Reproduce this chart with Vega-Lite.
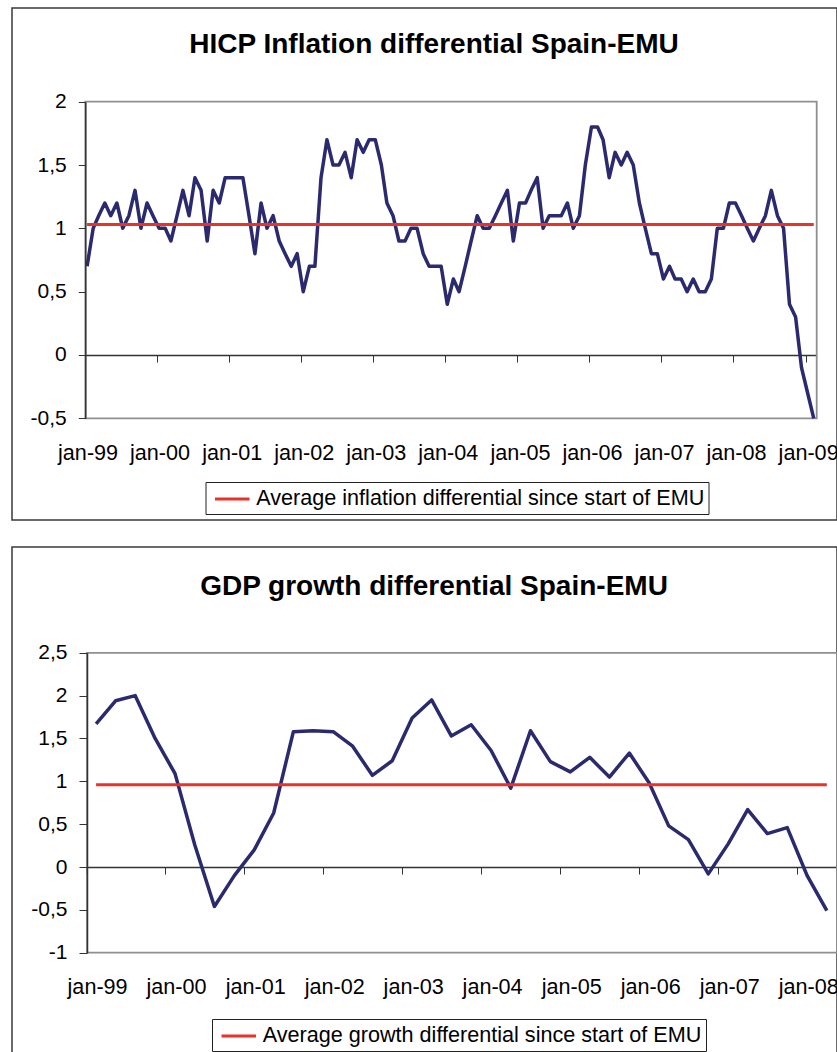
{
  "$schema": "https://vega.github.io/schema/vega-lite/v6.json",
  "padding": {"left": 11, "top": 7, "right": 0, "bottom": 0},
  "background": "white",
  "spacing": 25,
  "config": {
    "font": "Liberation Sans",
    "view": {"stroke": "#3a3a3a", "strokeWidth": 1.5}
  },
  "resolve": {
    "scale": {"x": "independent", "y": "independent", "color": "independent"},
    "axis": {"x": "independent", "y": "independent"},
    "legend": {"color": "independent"}
  },
  "datasets": {
    "hicp": [
      {"date": "1999-01-01", "value": 0.7}, {"date": "1999-02-01", "value": 1.0}, {"date": "1999-03-01", "value": 1.1}, {"date": "1999-04-01", "value": 1.2}, {"date": "1999-05-01", "value": 1.1}, {"date": "1999-06-01", "value": 1.2}, {"date": "1999-07-01", "value": 1.0}, {"date": "1999-08-01", "value": 1.1}, {"date": "1999-09-01", "value": 1.3}, {"date": "1999-10-01", "value": 1.0}, {"date": "1999-11-01", "value": 1.2}, {"date": "1999-12-01", "value": 1.1},
      {"date": "2000-01-01", "value": 1.0}, {"date": "2000-02-01", "value": 1.0}, {"date": "2000-03-01", "value": 0.9}, {"date": "2000-04-01", "value": 1.1}, {"date": "2000-05-01", "value": 1.3}, {"date": "2000-06-01", "value": 1.1}, {"date": "2000-07-01", "value": 1.4}, {"date": "2000-08-01", "value": 1.3}, {"date": "2000-09-01", "value": 0.9}, {"date": "2000-10-01", "value": 1.3}, {"date": "2000-11-01", "value": 1.2}, {"date": "2000-12-01", "value": 1.4},
      {"date": "2001-01-01", "value": 1.4}, {"date": "2001-02-01", "value": 1.4}, {"date": "2001-03-01", "value": 1.4}, {"date": "2001-04-01", "value": 1.1}, {"date": "2001-05-01", "value": 0.8}, {"date": "2001-06-01", "value": 1.2}, {"date": "2001-07-01", "value": 1.0}, {"date": "2001-08-01", "value": 1.1}, {"date": "2001-09-01", "value": 0.9}, {"date": "2001-10-01", "value": 0.8}, {"date": "2001-11-01", "value": 0.7}, {"date": "2001-12-01", "value": 0.8},
      {"date": "2002-01-01", "value": 0.5}, {"date": "2002-02-01", "value": 0.7}, {"date": "2002-03-01", "value": 0.7}, {"date": "2002-04-01", "value": 1.4}, {"date": "2002-05-01", "value": 1.7}, {"date": "2002-06-01", "value": 1.5}, {"date": "2002-07-01", "value": 1.5}, {"date": "2002-08-01", "value": 1.6}, {"date": "2002-09-01", "value": 1.4}, {"date": "2002-10-01", "value": 1.7}, {"date": "2002-11-01", "value": 1.6}, {"date": "2002-12-01", "value": 1.7},
      {"date": "2003-01-01", "value": 1.7}, {"date": "2003-02-01", "value": 1.5}, {"date": "2003-03-01", "value": 1.2}, {"date": "2003-04-01", "value": 1.1}, {"date": "2003-05-01", "value": 0.9}, {"date": "2003-06-01", "value": 0.9}, {"date": "2003-07-01", "value": 1.0}, {"date": "2003-08-01", "value": 1.0}, {"date": "2003-09-01", "value": 0.8}, {"date": "2003-10-01", "value": 0.7}, {"date": "2003-11-01", "value": 0.7}, {"date": "2003-12-01", "value": 0.7},
      {"date": "2004-01-01", "value": 0.4}, {"date": "2004-02-01", "value": 0.6}, {"date": "2004-03-01", "value": 0.5}, {"date": "2004-04-01", "value": 0.7}, {"date": "2004-05-01", "value": 0.9}, {"date": "2004-06-01", "value": 1.1}, {"date": "2004-07-01", "value": 1.0}, {"date": "2004-08-01", "value": 1.0}, {"date": "2004-09-01", "value": 1.1}, {"date": "2004-10-01", "value": 1.2}, {"date": "2004-11-01", "value": 1.3}, {"date": "2004-12-01", "value": 0.9},
      {"date": "2005-01-01", "value": 1.2}, {"date": "2005-02-01", "value": 1.2}, {"date": "2005-03-01", "value": 1.3}, {"date": "2005-04-01", "value": 1.4}, {"date": "2005-05-01", "value": 1.0}, {"date": "2005-06-01", "value": 1.1}, {"date": "2005-07-01", "value": 1.1}, {"date": "2005-08-01", "value": 1.1}, {"date": "2005-09-01", "value": 1.2}, {"date": "2005-10-01", "value": 1.0}, {"date": "2005-11-01", "value": 1.1}, {"date": "2005-12-01", "value": 1.5},
      {"date": "2006-01-01", "value": 1.8}, {"date": "2006-02-01", "value": 1.8}, {"date": "2006-03-01", "value": 1.7}, {"date": "2006-04-01", "value": 1.4}, {"date": "2006-05-01", "value": 1.6}, {"date": "2006-06-01", "value": 1.5}, {"date": "2006-07-01", "value": 1.6}, {"date": "2006-08-01", "value": 1.5}, {"date": "2006-09-01", "value": 1.2}, {"date": "2006-10-01", "value": 1.0}, {"date": "2006-11-01", "value": 0.8}, {"date": "2006-12-01", "value": 0.8},
      {"date": "2007-01-01", "value": 0.6}, {"date": "2007-02-01", "value": 0.7}, {"date": "2007-03-01", "value": 0.6}, {"date": "2007-04-01", "value": 0.6}, {"date": "2007-05-01", "value": 0.5}, {"date": "2007-06-01", "value": 0.6}, {"date": "2007-07-01", "value": 0.5}, {"date": "2007-08-01", "value": 0.5}, {"date": "2007-09-01", "value": 0.6}, {"date": "2007-10-01", "value": 1.0}, {"date": "2007-11-01", "value": 1.0}, {"date": "2007-12-01", "value": 1.2},
      {"date": "2008-01-01", "value": 1.2}, {"date": "2008-02-01", "value": 1.1}, {"date": "2008-03-01", "value": 1.0}, {"date": "2008-04-01", "value": 0.9}, {"date": "2008-05-01", "value": 1.0}, {"date": "2008-06-01", "value": 1.1}, {"date": "2008-07-01", "value": 1.3}, {"date": "2008-08-01", "value": 1.1}, {"date": "2008-09-01", "value": 1.0}, {"date": "2008-10-01", "value": 0.4}, {"date": "2008-11-01", "value": 0.3}, {"date": "2008-12-01", "value": -0.1},
      {"date": "2009-01-01", "value": -0.3}, {"date": "2009-02-01", "value": -0.5}
    ],
    "hicpAvg": [
      {"date": "1999-01-01", "value": 1.03, "series": "Average inflation differential since start of EMU"},
      {"date": "2009-02-01", "value": 1.03, "series": "Average inflation differential since start of EMU"}
    ],
    "gdp": [
      {"date": "1999-01-01", "value": 1.67}, {"date": "1999-04-01", "value": 1.94}, {"date": "1999-07-01", "value": 2.0}, {"date": "1999-10-01", "value": 1.5},
      {"date": "2000-01-01", "value": 1.09}, {"date": "2000-04-01", "value": 0.26}, {"date": "2000-07-01", "value": -0.46}, {"date": "2000-10-01", "value": -0.1},
      {"date": "2001-01-01", "value": 0.2}, {"date": "2001-04-01", "value": 0.63}, {"date": "2001-07-01", "value": 1.58}, {"date": "2001-10-01", "value": 1.59},
      {"date": "2002-01-01", "value": 1.58}, {"date": "2002-04-01", "value": 1.41}, {"date": "2002-07-01", "value": 1.07}, {"date": "2002-10-01", "value": 1.24},
      {"date": "2003-01-01", "value": 1.74}, {"date": "2003-04-01", "value": 1.95}, {"date": "2003-07-01", "value": 1.53}, {"date": "2003-10-01", "value": 1.66},
      {"date": "2004-01-01", "value": 1.36}, {"date": "2004-04-01", "value": 0.92}, {"date": "2004-07-01", "value": 1.59}, {"date": "2004-10-01", "value": 1.23},
      {"date": "2005-01-01", "value": 1.11}, {"date": "2005-04-01", "value": 1.28}, {"date": "2005-07-01", "value": 1.05}, {"date": "2005-10-01", "value": 1.33},
      {"date": "2006-01-01", "value": 0.98}, {"date": "2006-04-01", "value": 0.48}, {"date": "2006-07-01", "value": 0.32}, {"date": "2006-10-01", "value": -0.08},
      {"date": "2007-01-01", "value": 0.27}, {"date": "2007-04-01", "value": 0.67}, {"date": "2007-07-01", "value": 0.39}, {"date": "2007-10-01", "value": 0.46},
      {"date": "2008-01-01", "value": -0.1}, {"date": "2008-04-01", "value": -0.51}
    ],
    "gdpAvg": [
      {"date": "1999-01-01", "value": 0.96, "series": "Average growth differential since start of EMU"},
      {"date": "2008-04-01", "value": 0.96, "series": "Average growth differential since start of EMU"}
    ]
  },
  "vconcat": [
    {
      "width": 825,
      "height": 512,
      "title": {"text": "HICP Inflation differential Spain-EMU", "orient": "top", "anchor": "middle", "frame": "group", "offset": -73, "dx": 9.5, "baseline": "alphabetic", "fontSize": 28, "fontWeight": "bold", "font": "Liberation Sans", "color": "#000000"},
      "layer": [
        {
          "data": {"values": [{}]},
          "mark": {"type": "rect", "filled": false, "stroke": "#8f8f8f", "strokeWidth": 1.8},
          "encoding": {
            "x": {"datum": {"year": 1998, "month": 12, "date": 23, "utc": true}, "type": "temporal"},
            "x2": {"datum": {"year": 2009, "month": 2, "date": 16, "utc": true}},
            "y": {"datum": -0.5, "type": "quantitative"},
            "y2": {"datum": 2}
          }
        },
        {
          "data": {"name": "hicp"},
          "mark": {"type": "line", "color": "#2b2a6e", "strokeWidth": 3.5, "strokeJoin": "round"},
          "encoding": {
            "x": {
              "field": "date", "type": "temporal",
              "scale": {"type": "utc", "domain": [{"year": 1998, "month": 12, "date": 23, "utc": true}, {"year": 2009, "month": 2, "date": 16, "utc": true}], "range": [73.3, 804.7], "nice": false},
              "axis": {
                "orient": "bottom", "offset": -165, "title": null, "grid": false,
                "values": [{"year": 1999, "month": 1, "date": 1, "utc": true}, {"year": 2000, "month": 1, "date": 1, "utc": true}, {"year": 2001, "month": 1, "date": 1, "utc": true}, {"year": 2002, "month": 1, "date": 1, "utc": true}, {"year": 2003, "month": 1, "date": 1, "utc": true}, {"year": 2004, "month": 1, "date": 1, "utc": true}, {"year": 2005, "month": 1, "date": 1, "utc": true}, {"year": 2006, "month": 1, "date": 1, "utc": true}, {"year": 2007, "month": 1, "date": 1, "utc": true}, {"year": 2008, "month": 1, "date": 1, "utc": true}, {"year": 2009, "month": 1, "date": 1, "utc": true}],
                "domain": true, "domainColor": "#333333", "domainWidth": 1.5,
                "ticks": true, "tickSize": 7, "tickColor": "#333333", "tickWidth": 1, "tickOffset": -2,
                "labelOffset": 2.5, "labelPadding": 80.5, "labelFontSize": 21.6, "labelFont": "Liberation Sans", "labelColor": "#000000",
                "labelExpr": "lower(utcFormat(datum.value, '%b-%y'))", "labelFlush": false, "labelOverlap": false, "labelBound": false, "zindex": 0
              }
            },
            "y": {
              "field": "value", "type": "quantitative",
              "scale": {"domain": [-0.5, 2], "range": [410.3, 93.7], "nice": false, "zero": false},
              "axis": {
                "orient": "left", "offset": -73.3, "title": null, "grid": false,
                "values": [-0.5, 0, 0.5, 1, 1.5, 2],
                "domain": true, "domainColor": "#333333", "domainWidth": 1.5,
                "tickSize": 7, "tickColor": "#333333", "tickWidth": 1,
                "labelPadding": 12, "labelFontSize": 21, "labelFont": "Liberation Sans", "labelColor": "#000000",
                "labelExpr": "replace(toString(datum.value), '.', ',')", "zindex": 1
              }
            }
          }
        },
        {
          "data": {"name": "hicpAvg"},
          "mark": {"type": "line", "strokeWidth": 3},
          "encoding": {
            "x": {"field": "date", "type": "temporal"},
            "y": {"field": "value", "type": "quantitative"},
            "color": {
              "field": "series", "type": "nominal",
              "scale": {"range": ["#ec3228"]},
              "legend": {
                "title": null, "orient": "none", "legendX": 193.5, "legendY": 474,
                "strokeColor": "#222222", "padding": 4,
                "symbolType": "M-1.5,0H1.5", "symbolSize": 529, "symbolStrokeWidth": 3, "symbolOffset": 9.75,
                "labelOffset": 11, "labelFontSize": 21.6, "labelFont": "Liberation Sans", "labelColor": "#000000", "labelLimit": 700
              }
            }
          }
        }
      ]
    },
    {
      "width": 825,
      "height": 508,
      "title": {"text": "GDP growth differential Spain-EMU", "orient": "top", "anchor": "middle", "frame": "group", "offset": -76, "dx": 9.5, "baseline": "alphabetic", "fontSize": 28, "fontWeight": "bold", "font": "Liberation Sans", "color": "#000000"},
      "layer": [
        {
          "data": {"values": [{}]},
          "mark": {"type": "rect", "filled": false, "stroke": "#8f8f8f", "strokeWidth": 1.8},
          "encoding": {
            "x": {"datum": {"year": 1998, "month": 11, "date": 20, "utc": true}, "type": "temporal"},
            "x2": {"datum": {"year": 2008, "month": 5, "date": 18, "utc": true}},
            "y": {"datum": -1, "type": "quantitative"},
            "y2": {"datum": 2.5}
          }
        },
        {
          "data": {"name": "gdp"},
          "mark": {"type": "line", "color": "#2b2a6e", "strokeWidth": 3.5, "strokeJoin": "round"},
          "encoding": {
            "x": {
              "field": "date", "type": "temporal",
              "scale": {"type": "utc", "domain": [{"year": 1998, "month": 11, "date": 20, "utc": true}, {"year": 2008, "month": 5, "date": 18, "utc": true}], "range": [75, 825], "nice": false},
              "axis": {
                "orient": "bottom", "offset": -188, "title": null, "grid": false,
                "values": [{"year": 1999, "month": 1, "date": 1, "utc": true}, {"year": 2000, "month": 1, "date": 1, "utc": true}, {"year": 2001, "month": 1, "date": 1, "utc": true}, {"year": 2002, "month": 1, "date": 1, "utc": true}, {"year": 2003, "month": 1, "date": 1, "utc": true}, {"year": 2004, "month": 1, "date": 1, "utc": true}, {"year": 2005, "month": 1, "date": 1, "utc": true}, {"year": 2006, "month": 1, "date": 1, "utc": true}, {"year": 2007, "month": 1, "date": 1, "utc": true}, {"year": 2008, "month": 1, "date": 1, "utc": true}],
                "domain": true, "domainColor": "#333333", "domainWidth": 1.5,
                "ticks": true, "tickSize": 7, "tickColor": "#333333", "tickWidth": 1, "tickOffset": -9.9,
                "labelOffset": 10.9, "labelPadding": 102.4, "labelFontSize": 21.6, "labelFont": "Liberation Sans", "labelColor": "#000000",
                "labelExpr": "lower(utcFormat(datum.value, '%b-%y'))", "labelFlush": false, "labelOverlap": false, "labelBound": false, "zindex": 0
              }
            },
            "y": {
              "field": "value", "type": "quantitative",
              "scale": {"domain": [-1, 2.5], "range": [405.7, 105.8], "nice": false, "zero": false},
              "axis": {
                "orient": "left", "offset": -75, "title": null, "grid": false,
                "values": [-1, -0.5, 0, 0.5, 1, 1.5, 2, 2.5],
                "domain": true, "domainColor": "#333333", "domainWidth": 1.5,
                "tickSize": 8, "tickColor": "#333333", "tickWidth": 1,
                "labelPadding": 12, "labelFontSize": 21, "labelFont": "Liberation Sans", "labelColor": "#000000",
                "labelExpr": "replace(toString(datum.value), '.', ',')", "zindex": 1
              }
            }
          }
        },
        {
          "data": {"name": "gdpAvg"},
          "mark": {"type": "line", "strokeWidth": 3},
          "encoding": {
            "x": {"field": "date", "type": "temporal"},
            "y": {"field": "value", "type": "quantitative"},
            "color": {
              "field": "series", "type": "nominal",
              "scale": {"range": ["#ec3228"]},
              "legend": {
                "title": null, "orient": "none", "legendX": 200, "legendY": 472,
                "strokeColor": "#222222", "padding": 4,
                "symbolType": "M-1.5,0H1.5", "symbolSize": 529, "symbolStrokeWidth": 3, "symbolOffset": 9.75,
                "labelOffset": 11, "labelFontSize": 21.6, "labelFont": "Liberation Sans", "labelColor": "#000000", "labelLimit": 700
              }
            }
          }
        }
      ]
    }
  ]
}
